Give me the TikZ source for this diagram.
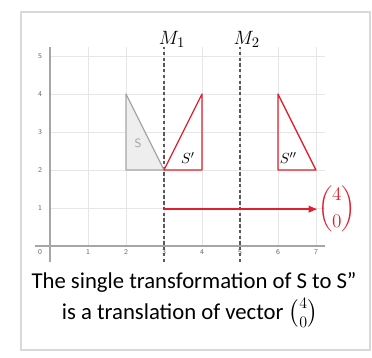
\documentclass[tikz,border=0pt]{standalone}
\usepackage{amsmath}
\usepackage{fontspec}
\setmainfont{Carlito}
\usetikzlibrary{arrows.meta}
\definecolor{r}{HTML}{E0202E}
\definecolor{gridc}{HTML}{E6E6E6}
\definecolor{axisc}{HTML}{A6A6A6}
\definecolor{tickc}{HTML}{666666}
\definecolor{framec}{HTML}{D9D9D9}
\definecolor{sgray}{HTML}{A6A6A6}
\definecolor{sfill}{HTML}{EEEEEE}

\begin{document}
\begin{tikzpicture}[x=1cm,y=1cm,>=Latex,
  gridline/.style={draw=gridc,line width=0.5pt},
  axisline/.style={draw=axisc,line width=0.9pt},
  ticklbl/.style={font=\sffamily\fontsize{5.5}{6}\selectfont,text=tickc,inner sep=1pt},
  mirror/.style={draw=black!65,line width=0.8pt,dash pattern=on 2.5pt off 1.8pt},
  image/.style={draw=r,line width=1pt,line join=round},
  tri/.style={draw=sgray,fill=sfill,line width=0.9pt,line join=round},
  mlabel/.style={font=\fontsize{15}{17}\selectfont,inner sep=1pt},
  caption/.style={font=\fontsize{17}{20}\selectfont,inner sep=0pt},
  arr/.style={-{Latex[length=2.4mm,width=2mm]},draw=r,line width=1pt}]
  \useasboundingbox (-1.316,-2.947) rectangle (8.474,6.474);
  \draw[draw=framec,line width=1.2pt] (-0.763,-2.737) rectangle (8.42,6.158);
  % grid and axes
  \foreach \i in {1,...,7} \draw[gridline] (\i,0) -- (\i,5.24);
  \foreach \j in {1,...,5} \draw[gridline] (0,\j) -- (7.24,\j);
  \draw[axisline] (-0.39,0) -- (7.24,0);
  \draw[axisline] (0,-0.42) -- (0,5.24);
  \foreach \i in {1,...,7} \node[ticklbl] (x\i) at (\i,-0.17) {\i};
  \foreach \j in {1,...,5} \node[ticklbl] (y\j) at (-0.26,\j) {\j};
  \node[ticklbl] (o) at (-0.26,-0.17) {0};
  % mirror lines
  \draw[mirror] (3,-0.42) -- (3,5.24);
  \draw[mirror] (5,-0.42) -- (5,5.24);
  \node[mlabel] (m1) at (3.21,5.44) {$M_1$};
  \node[mlabel] (m2) at (5.18,5.44) {$M_2$};
  % shapes
  \draw[tri] (2,2) -- (2,4) -- (3,2) -- cycle;
  \draw[image] (3,2) -- (4,2) -- (4,4) -- cycle;
  \draw[image] (6,2) -- (6,4) -- (7,2) -- cycle;
  \node[font=\sffamily\fontsize{9}{10}\selectfont,text=sgray] (s) at (2.32,2.71) {S};
  \node[font=\fontsize{11}{12}\selectfont] (s1) at (3.63,2.31) {$S'$};
  \node[font=\fontsize{11}{12}\selectfont] (s2) at (6.27,2.31) {$S''$};
  % translation vector
  \coordinate (v0) at (3,0.97);
  \node[text=r,font=\fontsize{15}{17}\selectfont,inner sep=0pt] (vec) at (7.55,0.97) {$\displaystyle\binom{4}{0}$};
  \draw[arr] (v0) -- (vec.west);
  \node[caption] (line1) at (3.79,-0.97) {The single transformation of S to S''};
  \node[caption] (line2) at (3.68,-1.76) {is a translation of vector $\binom{4}{0}$};
\end{tikzpicture}
\end{document}
